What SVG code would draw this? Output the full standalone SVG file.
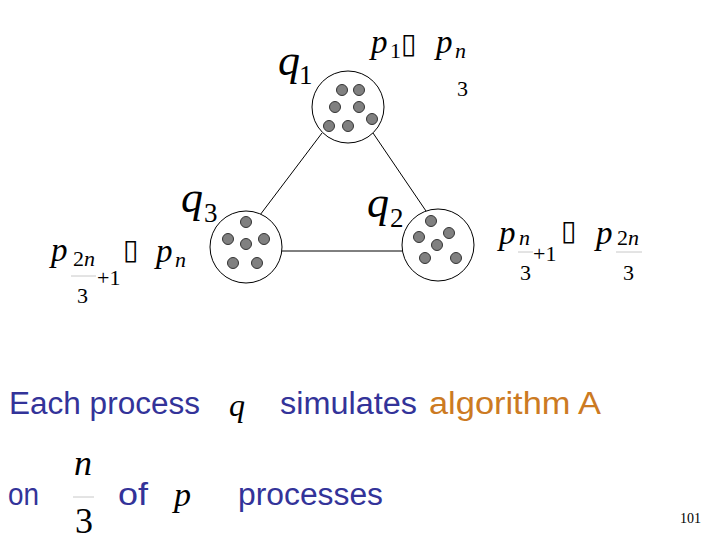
<svg xmlns="http://www.w3.org/2000/svg" width="720" height="540" viewBox="0 0 720 540">
<style>
.node{fill:#fff;stroke:#000;stroke-width:1}
.dot{fill:#808080;stroke:#333;stroke-width:1}
.edge{stroke:#000;stroke-width:1;fill:none}
.m{font-family:"Liberation Serif","DejaVu Serif","Times New Roman",serif;fill:#000}
.i{font-style:italic}
.bx{font-family:"DejaVu Sans",sans-serif;font-size:28px;fill:#000}
.fl{stroke:#c8c8c8;stroke-width:1}
.t{font-family:"Liberation Sans",Arial,sans-serif;font-size:31px;fill:#333399}
.o{fill:#cc7a22}
</style>
<rect width="720" height="540" fill="#fff"/>
<g id="connectors">
<line class="edge" x1="322" y1="133" x2="260" y2="215"/>
<line class="edge" x1="373" y1="133" x2="426" y2="211"/>
<line class="edge" x1="282" y1="251" x2="402" y2="251"/>
</g>
<g id="q1">
<circle class="node" cx="348" cy="107" r="36"/>
<circle class="dot" cx="342" cy="90" r="5.5"/>
<circle class="dot" cx="359" cy="90" r="5.5"/>
<circle class="dot" cx="335" cy="107" r="5.5"/>
<circle class="dot" cx="359" cy="107" r="5.5"/>
<circle class="dot" cx="329" cy="126" r="5.5"/>
<circle class="dot" cx="348" cy="126" r="5.5"/>
<circle class="dot" cx="372" cy="119" r="5.5"/>
<text class="m i" x="278" y="75" font-size="44">q</text>
<text class="m" x="299" y="84" font-size="27">1</text>
</g>
<g id="q3">
<circle class="node" cx="246" cy="247" r="36"/>
<circle class="dot" cx="246" cy="222" r="5.5"/>
<circle class="dot" cx="228" cy="239" r="5.5"/>
<circle class="dot" cx="246" cy="244" r="5.5"/>
<circle class="dot" cx="264" cy="239" r="5.5"/>
<circle class="dot" cx="233" cy="263" r="5.5"/>
<circle class="dot" cx="257" cy="263" r="5.5"/>
<text class="m i" x="181" y="212" font-size="44">q</text>
<text class="m" x="204" y="222" font-size="27">3</text>
</g>
<g id="q2">
<circle class="node" cx="438" cy="245" r="36"/>
<circle class="dot" cx="431" cy="221" r="5.5"/>
<circle class="dot" cx="419" cy="237" r="5.5"/>
<circle class="dot" cx="449" cy="233" r="5.5"/>
<circle class="dot" cx="437" cy="245" r="5.5"/>
<circle class="dot" cx="425" cy="258" r="5.5"/>
<circle class="dot" cx="456" cy="258" r="5.5"/>
<text class="m i" x="367" y="217" font-size="44">q</text>
<text class="m" x="390" y="227" font-size="27">2</text>
</g>
<g id="range1">
<text class="m i" x="371" y="53" font-size="33">p</text>
<text class="m" x="390" y="58" font-size="22">1</text>
<text class="bx" x="401" y="53">▯</text>
<text class="m i" x="436" y="53" font-size="33">p</text>
<text class="m i" x="455" y="58" font-size="22">n</text>
<text class="m" x="457" y="96" font-size="22">3</text>
</g>
<g id="range2">
<text class="m i" x="499" y="244" font-size="33">p</text>
<text class="m i" x="519" y="245" font-size="22">n</text>
<line class="fl" x1="518" y1="252" x2="533" y2="252"/>
<text class="m" x="520" y="280" font-size="22">3</text>
<text class="m" x="533" y="261" font-size="22">+1</text>
<text class="bx" x="561" y="240">▯</text>
<text class="m i" x="596" y="244" font-size="33">p</text>
<text class="m" x="617" y="245" font-size="22">2<tspan class="i">n</tspan></text>
<line class="fl" x1="616" y1="252" x2="642" y2="252"/>
<text class="m" x="623" y="280" font-size="22">3</text>
</g>
<g id="range3">
<text class="m i" x="51" y="261" font-size="33">p</text>
<text class="m" x="73" y="266" font-size="22">2<tspan class="i">n</tspan></text>
<line class="fl" x1="71" y1="276" x2="96" y2="276"/>
<text class="m" x="77" y="303" font-size="22">3</text>
<text class="m" x="97" y="285" font-size="22">+1</text>
<text class="bx" x="123" y="259">▯</text>
<text class="m i" x="156" y="262" font-size="33">p</text>
<text class="m i" x="175" y="267" font-size="22">n</text>
</g>
<g id="caption">
<text class="t" x="9" y="414" textLength="191" lengthAdjust="spacingAndGlyphs">Each process</text>
<text class="m i" x="229" y="416" font-size="32">q</text>
<text class="t" x="280" y="414" textLength="137" lengthAdjust="spacingAndGlyphs">simulates</text>
<text class="t o" x="429" y="414" textLength="172" lengthAdjust="spacingAndGlyphs">algorithm A</text>
<text class="t" x="8" y="505" textLength="31" lengthAdjust="spacingAndGlyphs">on</text>
<text class="m i" x="74" y="475" font-size="36">n</text>
<line class="fl" x1="73" y1="497" x2="94" y2="497"/>
<text class="m" x="75" y="533" font-size="36">3</text>
<text class="t" x="118" y="505" textLength="30" lengthAdjust="spacingAndGlyphs">of</text>
<text class="m i" x="174" y="506" font-size="34">p</text>
<text class="t" x="238" y="505" textLength="145" lengthAdjust="spacingAndGlyphs">processes</text>
<text class="m" x="680" y="523" font-size="14">101</text>
</g>
</svg>
